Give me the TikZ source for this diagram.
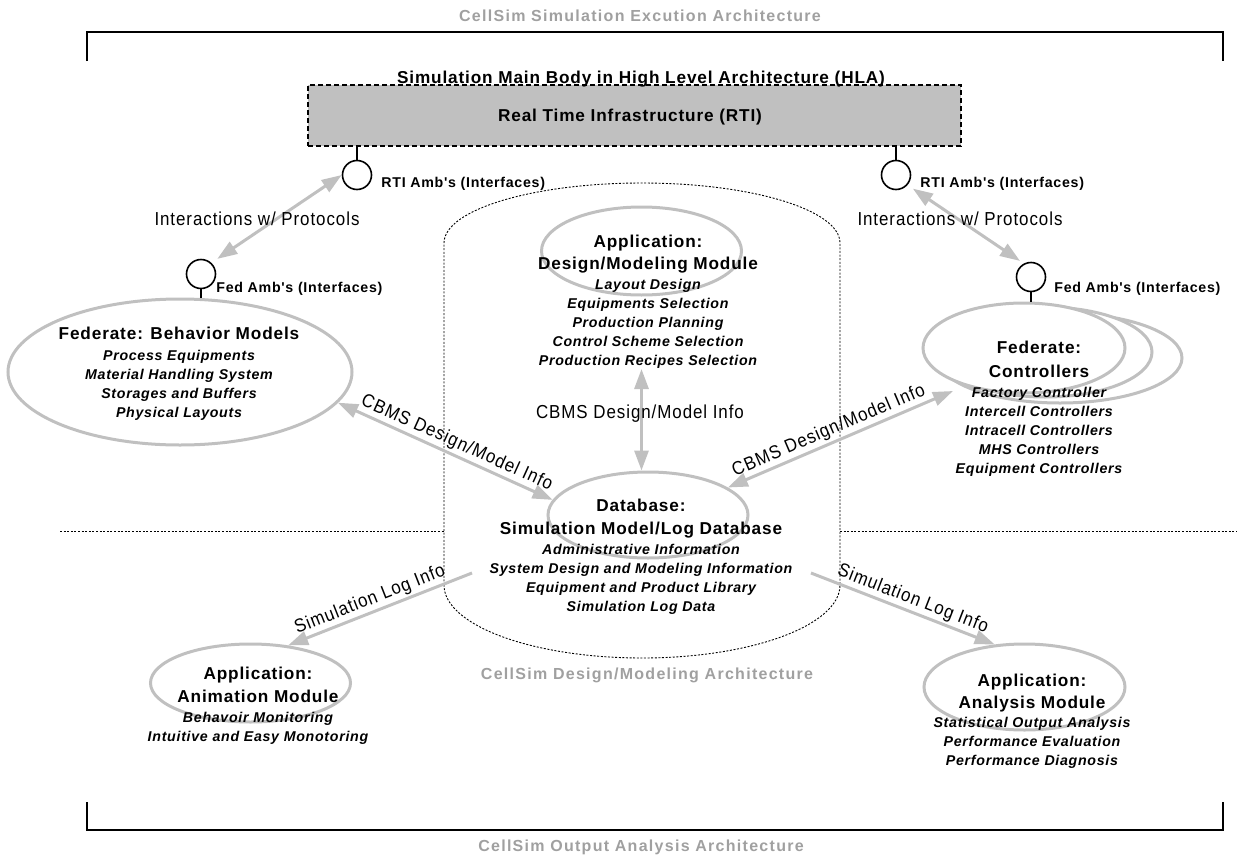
\documentclass[tikz,border=0pt]{standalone}
\usepackage{fontspec}
\setmainfont{Liberation Sans}
\newfontfamily\bsp{Liberation Sans}[LetterSpace=5]
\newfontfamily\rsp{Liberation Sans}[LetterSpace=5,FakeStretch=0.9]
\newfontfamily\tsp{Liberation Sans}[LetterSpace=8]
\usetikzlibrary{shapes.geometric,arrows.meta}
\definecolor{lgray}{HTML}{C0C0C0}
\definecolor{tgray}{HTML}{A0A0A0}
\definecolor{boxgray}{HTML}{C0C0C0}
\begin{document}
\begin{tikzpicture}[x=0.5pt,y=-0.5pt,
  btxt/.style={font=\bsp\bfseries\fontsize{8.6}{10}\selectfont, anchor=base, inner sep=0pt},
  itxt/.style={font=\bsp\bfseries\itshape\fontsize{7.1}{8.5}\selectfont, anchor=base, inner sep=0pt},
  stxt/.style={font=\bsp\bfseries\fontsize{7.1}{8.5}\selectfont, anchor=base west, inner sep=0pt},
  rtxt/.style={font=\rsp\fontsize{9.4}{11}\selectfont, anchor=base, inner sep=0pt},
  lbl/.style={font=\rsp\fontsize{9.4}{11}\selectfont, inner sep=1pt, sloped, above},
  ttl/.style={font=\tsp\bfseries\fontsize{8}{9.5}\selectfont, text=tgray, anchor=base, inner sep=0pt},
  oval/.style={ellipse, draw=lgray, line width=1.5pt, inner sep=0pt},
  amb/.style={circle, draw=black, line width=0.8pt, minimum size=14.5pt, inner sep=0pt},
  conn/.style={draw=lgray, line width=1.5pt},
  tipend/.style={conn, -{Triangle[length=10pt,width=7pt]}},
  tipstart/.style={conn, {Triangle[length=10pt,width=7pt]}-},
  tipboth/.style={conn, {Triangle[length=10pt,width=7pt]}-{Triangle[length=10pt,width=7pt]}},
  fine/.style={draw=black, line width=0.45pt, dash pattern=on 1pt off 0.8pt},
  stem/.style={draw=black, line width=0.8pt},
]
\useasboundingbox (0,0) rectangle (1238,857);

% brackets
\draw[line width=0.7pt] (87,61) -- (87,32) -- (1223,32) -- (1223,61);
\draw[line width=0.7pt] (87,802) -- (87,830) -- (1223,830) -- (1223,802);

% titles
\node[ttl] (t1) at (640,21) {CellSim Simulation Excution Architecture};
\node[ttl] (t2) at (647,679) {CellSim Design/Modeling Architecture};
\node[ttl] (t3) at (641,851) {CellSim Output Analysis Architecture};

% cylinder and divider
\draw[fine] (444,585) -- (444,243) arc[start angle=180, end angle=0, x radius=99pt, y radius=30pt]
  -- (840,585) arc[start angle=0, end angle=-180, x radius=99pt, y radius=36.5pt] -- cycle;
\draw[fine] (60,531) -- (444,531);
\draw[fine] (840,531) -- (1237,531);

% RTI box
\node[draw=black, fill=boxgray, dash pattern=on 2.5pt off 1.5pt, line width=0.9pt,
      minimum width=326.5pt, minimum height=30.5pt, inner sep=0pt] (rti) at (634.5,115.5) {};
\node[btxt] (hla) at (641,83) {Simulation Main Body in High Level Architecture (HLA)};
\node[btxt] (rtitxt) at (630,121) {Real Time Infrastructure (RTI)};

% interface circles
\node[amb] (rtiL) at (357,175) {};
\node[amb] (rtiR) at (896,175) {};
\node[amb] (fedL) at (201,274) {};
\node[amb] (fedR) at (1031,277) {};
\draw[stem] (rtiL.north) -- (rtiL.north |- rti.south);
\draw[stem] (rtiR.north) -- (rtiR.north |- rti.south);
\node[stxt] (rtiLl) at (381,187) {RTI Amb's (Interfaces)};
\node[stxt] (rtiRl) at (920,187) {RTI Amb's (Interfaces)};
\node[stxt] (fedLl) at (216,292) {Fed Amb's (Interfaces)};
\node[stxt] (fedRl) at (1054,292) {Fed Amb's (Interfaces)};

% ellipses
\node[oval, minimum width=172pt, minimum height=73pt] (beh) at (180,372) {};
\node[oval, minimum width=100pt, minimum height=44pt] (dm) at (641.5,251) {};
\node[oval, minimum width=100pt, minimum height=43pt] (db) at (648,515) {};
\node[oval, fill=white, minimum width=122pt, minimum height=45pt] (ctl3) at (1060,358) {};
\node[oval, fill=white, minimum width=107pt, minimum height=45pt] (ctl2) at (1045,352) {};
\node[oval, fill=white, minimum width=101pt, minimum height=45pt] (ctl) at (1024,348) {};
\node[oval, minimum width=100pt, minimum height=39pt] (anim) at (250.5,683) {};
\node[oval, minimum width=100.5pt, minimum height=43pt] (ana) at (1024.5,687) {};
\draw[stem] (fedL.south) -- (fedL.south |- beh.north);
\draw[stem] (fedR.south) -- (fedR.south |- ctl.north);

% free connector ends
\coordinate (dmarr) at (641.5,369);
\coordinate (ctlin) at (953,391);
\coordinate (slLs) at (472,573);
\coordinate (slRs) at (811,573);

% connectors
\draw[tipboth, shorten <=3.5pt] (fedL.47) -- (rtiL.180);
\draw[tipboth, shorten <=3.2pt, shorten >=2.3pt] (rtiR.-41) -- (fedR.118);
\draw[tipboth] (dmarr) -- (dmarr |- db.north);
\draw[tipboth] (beh.-11) -- (db.171) node[lbl, pos=0.53] (cbmsL) {CBMS Design/Model Info};
\draw[tipboth] (db.19) -- (ctlin) node[lbl, pos=0.47] (cbmsR) {CBMS Design/Model Info};
\draw[tipstart] (anim.45) -- (slLs) node[lbl, pos=0.47] (slogL) {Simulation Log Info};
\draw[tipend] (slRs) -- (ana.125) node[lbl, pos=0.53] (slogR) {Simulation Log Info};

% free labels
\node[rtxt] (intL) at (257,225) {Interactions w/ Protocols};
\node[rtxt] (intR) at (960,225) {Interactions w/ Protocols};
\node[rtxt] (cbmsC) at (640,418) {CBMS Design/Model Info};

% behavior models
\node[btxt] (behT) at (179,339) {Federate: Behavior Models};
\foreach \t [count=\i] in {Process Equipments, Material Handling System, Storages and Buffers, Physical Layouts}
  \node[itxt] (beh\i) at (179,{341+19*\i}) {\t};

% design / modeling module
\node[btxt] (dmT1) at (648,247) {Application:};
\node[btxt] (dmT2) at (648,269) {Design/Modeling Module};
\foreach \t [count=\i] in {Layout Design, Equipments Selection, Production Planning, Control Scheme Selection, Production Recipes Selection}
  \node[itxt] (dm\i) at (648,{270+19*\i}) {\t};

% database
\node[btxt] (dbT1) at (641,511) {Database:};
\node[btxt] (dbT2) at (641,534) {Simulation Model/Log Database};
\foreach \t [count=\i] in {Administrative Information, System Design and Modeling Information, Equipment and Product Library, Simulation Log Data}
  \node[itxt] (db\i) at (641,{535+19*\i}) {\t};

% controllers
\node[btxt] (ctlT1) at (1039,353) {Federate:};
\node[btxt] (ctlT2) at (1039,377) {Controllers};
\foreach \t [count=\i] in {Factory Controller, Intercell Controllers, Intracell Controllers, MHS Controllers, Equipment Controllers}
  \node[itxt] (ctl\i) at (1039,{378+19*\i}) {\t};

% animation
\node[btxt] (anT1) at (258,679) {Application:};
\node[btxt] (anT2) at (258,702) {Animation Module};
\foreach \t [count=\i] in {Behavoir Monitoring, Intuitive and Easy Monotoring}
  \node[itxt] (an\i) at (258,{703+19*\i}) {\t};

% analysis
\node[btxt] (naT1) at (1032,686) {Application:};
\node[btxt] (naT2) at (1032,708) {Analysis Module};
\foreach \t [count=\i] in {Statistical Output Analysis, Performance Evaluation, Performance Diagnosis}
  \node[itxt] (na\i) at (1032,{708+19*\i}) {\t};
\end{tikzpicture}
\end{document}
